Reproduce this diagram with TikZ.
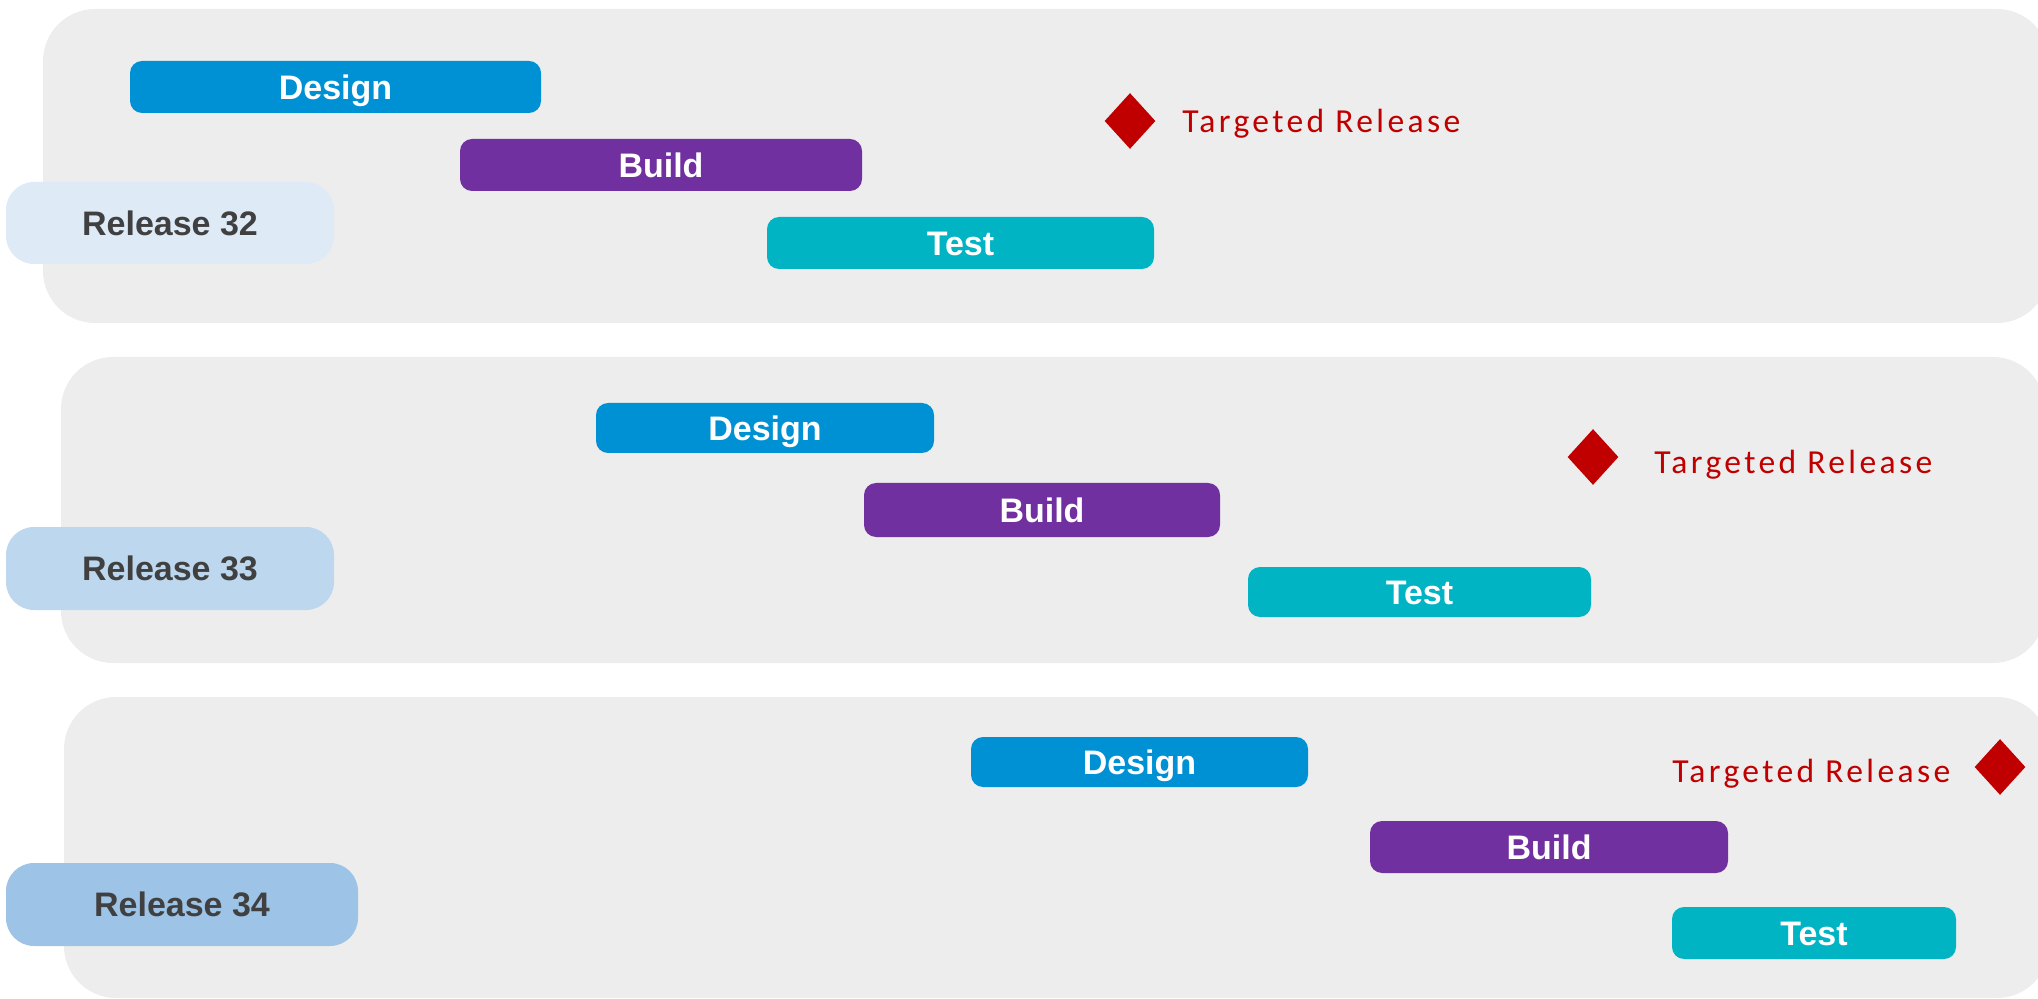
\documentclass[tikz,border=0pt]{standalone}
\usepackage{fontspec}
\setmainfont{Liberation Sans}
\newfontfamily\tgfont[LetterSpace=10]{Carlito}
\usetikzlibrary{shapes.geometric}
\definecolor{panelgray}{RGB}{237,237,237}
\definecolor{cdesign}{RGB}{0,145,213}
\definecolor{cbuild}{RGB}{112,48,160}
\definecolor{ctest}{RGB}{0,180,196}
\definecolor{cred}{RGB}{192,0,0}
\definecolor{rel32}{RGB}{222,235,247}
\definecolor{rel33}{RGB}{189,215,238}
\definecolor{rel34}{RGB}{157,195,230}
\definecolor{reltext}{RGB}{64,64,64}
\tikzset{
  panel/.style={fill=panelgray, rounded corners=26pt},
  taskbox/.style={rectangle, rounded corners=6pt, inner sep=0pt, text=white,
    font=\fontsize{17}{20}\selectfont\bfseries, text height=12.2pt, text depth=0pt},
  design/.style={taskbox, fill=cdesign},
  build/.style={taskbox, fill=cbuild},
  testbox/.style={taskbox, fill=ctest},
  relbox/.style={rectangle, rounded corners=14pt, inner sep=0pt, text=reltext,
    font=\fontsize{17}{20}\selectfont\bfseries, text height=12.2pt, text depth=0pt},
  milestone/.style={diamond, fill=cred, inner sep=0pt, minimum width=25.5pt, minimum height=28pt},
  tgtext/.style={inner sep=0pt, text=cred, font=\tgfont\fontsize{16.8}{20}\selectfont,
    text height=10.8pt, text depth=0pt}
}
\newcommand\placebox[7]{%
  \node[#1, minimum width={(#5-#3)*0.5pt}, minimum height={(#6-#4)*0.5pt}]
    (#2) at ({(#3+#5)/2},{(#4+#6)/2}) {#7};}
\begin{document}
\begin{tikzpicture}[x=0.5pt,y=-0.5pt]
\useasboundingbox (0,0) rectangle (2038,999);
\clip (0,0) rectangle (2038,999);
% panels
\fill[panel] (43,9) rectangle (2049,323);
\fill[panel] (61,357) rectangle (2045,663);
\fill[panel] (64,697) rectangle (2049,998);
% release labels
\placebox{relbox, fill=rel32}{r32}{6}{182}{334}{264}{Release 32}
\placebox{relbox, fill=rel33}{r33}{6}{527}{334}{610}{Release 33}
\placebox{relbox, fill=rel34}{r34}{6}{863}{358}{946}{Release 34}
% release 32
\placebox{design}{d1}{130}{61}{541}{113}{Design}
\placebox{build}{b1}{460}{139}{862}{191}{Build}
\placebox{testbox}{t1}{767}{217}{1154}{269}{Test}
\node[milestone] (m1) at (1130,121) {};
\node[tgtext, anchor=west] (l1) at (1182,122) {Targeted Release};
% release 33
\placebox{design}{d2}{596}{403}{934}{453}{Design}
\placebox{build}{b2}{864}{483}{1220}{537}{Build}
\placebox{testbox}{t2}{1248}{567}{1591}{617}{Test}
\node[milestone] (m2) at (1593,457) {};
\node[tgtext, anchor=west] (l2) at (1654,463) {Targeted Release};
% release 34
\placebox{design}{d3}{971}{737}{1308}{787}{Design}
\placebox{build}{b3}{1370}{821}{1728}{873}{Build}
\placebox{testbox}{t3}{1672}{907}{1956}{959}{Test}
\node[milestone] (m3) at (2000,767) {};
\node[tgtext, anchor=west] (l3) at (1672,772) {Targeted Release};
\end{tikzpicture}
\end{document}
